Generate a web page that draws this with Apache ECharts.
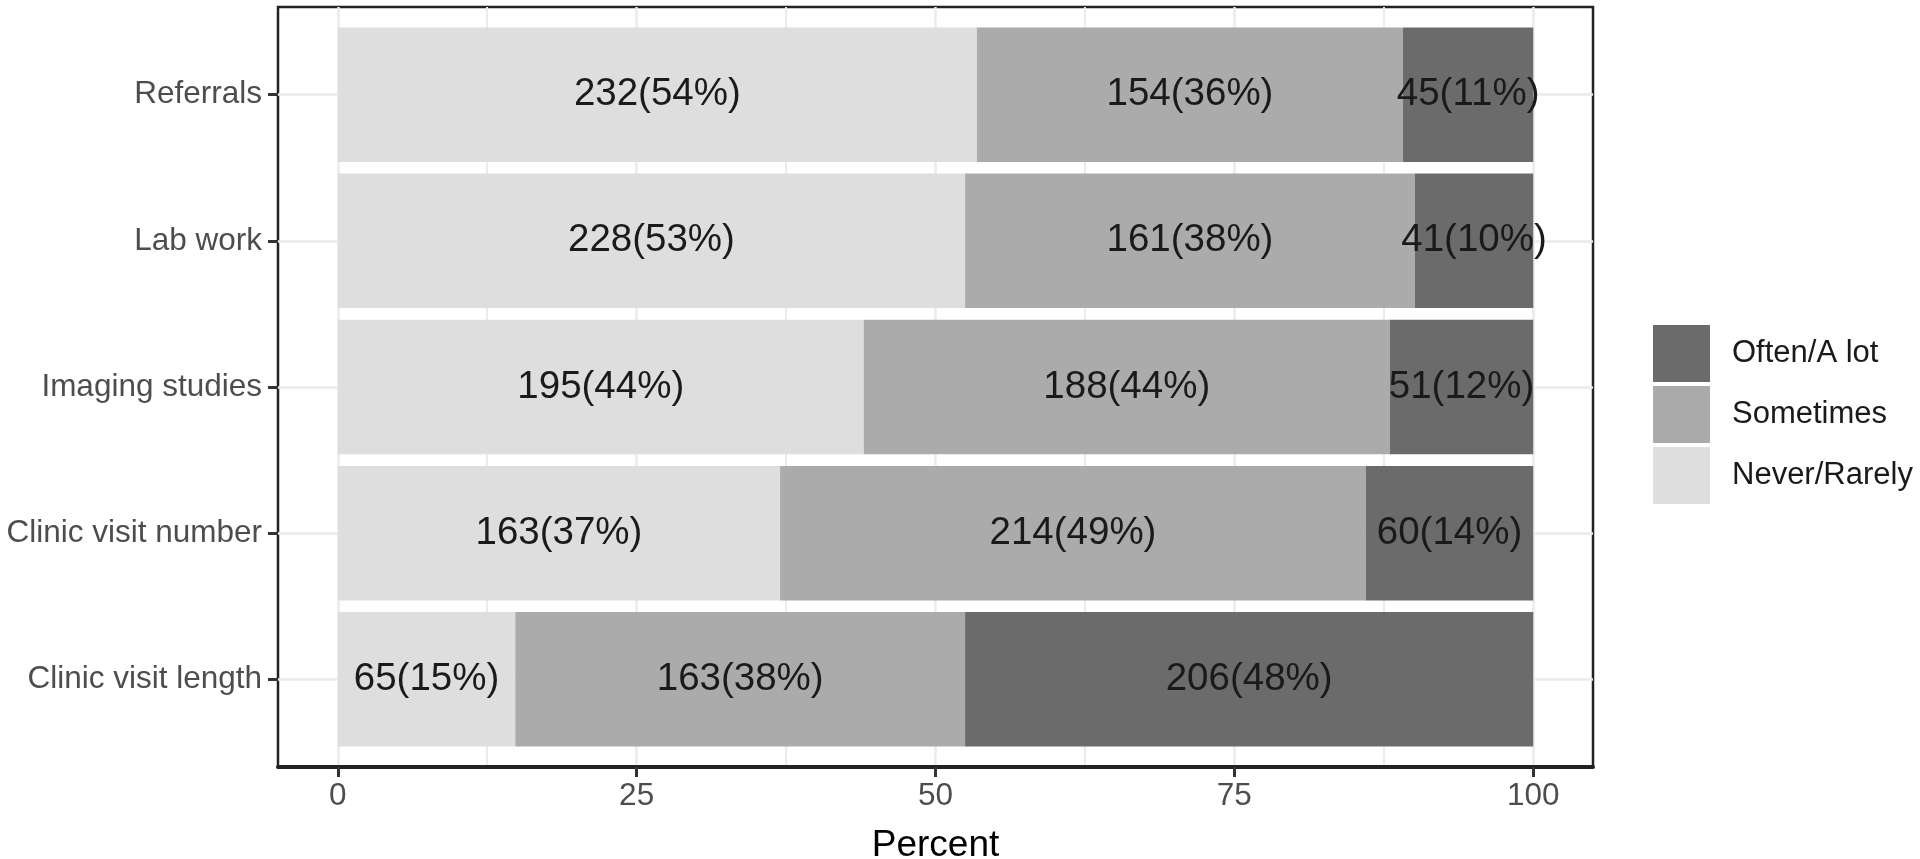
<!DOCTYPE html>
<html>
<head>
<meta charset="utf-8">
<script src="https://cdn.jsdelivr.net/npm/echarts@6/dist/echarts.min.js"></script>
<style>
html,body{margin:0;padding:0;background:#fff;}
#chart{width:1920px;height:859px;}
</style>
</head>
<body>
<div id="chart"></div>
<script>
// categories bottom-to-top
var categories = ['Clinic visit length', 'Clinic visit number', 'Imaging studies', 'Lab work', 'Referrals'];
var seriesNames = ['Never/Rarely', 'Sometimes', 'Often/A lot'];
var legendOrder = ['Often/A lot', 'Sometimes', 'Never/Rarely'];
var countsNever = [65, 163, 195, 228, 232];
var countsSometimes = [163, 214, 188, 161, 154];
var countsOften = [206, 60, 51, 41, 45];
var pctNever = [15, 37, 44, 53, 54];
var pctSometimes = [38, 49, 44, 38, 36];
var pctOften = [48, 14, 12, 10, 11];
var xTicks = [0, 25, 50, 75, 100];
var xMinor = [12.5, 37.5, 62.5, 87.5];
var colors = ['#dedede', '#ababab', '#6b6b6b'];

var FONT = 'Liberation Sans, Arial, Helvetica, sans-serif';
var counts = [countsNever, countsSometimes, countsOften];
var pcts = [pctNever, pctSometimes, pctOften];
var totals = categories.map(function (c, i) { return pctNever[i] + pctSometimes[i] + pctOften[i]; });
var catTicks = categories.map(function (c, i) { return i + 1; });

var panel = { left: 278, top: 7, width: 1315, height: 760 };
var nCat = categories.length;
var unit = panel.height / (nCat - 1 + 1.2);
var barTop = panel.top + 0.1 * unit;
var barHeight = unit * nCat;

var series = seriesNames.map(function (name, s) {
  return {
    name: name,
    type: 'bar',
    stack: 'all',
    xAxisIndex: 2,
    yAxisIndex: 1,
    barCategoryGap: '8%',
    itemStyle: { color: colors[s] },
    data: pcts[s].map(function (p, i) { return p / totals[i] * 100; }),
    label: {
      show: true,
      position: 'inside',
      fontFamily: FONT,
      fontSize: 38.5,
      color: '#1a1a1a',
      formatter: function (prm) {
        var i = prm.dataIndex;
        return counts[s][i] + '(' + pcts[s][i] + '%)';
      }
    },
    emphasis: { disabled: true },
    z: 3
  };
});

var chart = echarts.init(document.getElementById('chart'), null, { renderer: 'canvas' });
chart.setOption({
  animation: false,
  backgroundColor: '#fff',
  textStyle: { fontFamily: FONT },
  legend: {
    data: legendOrder,
    orient: 'vertical',
    left: 1653,
    top: 325,
    padding: 0,
    itemWidth: 57,
    itemHeight: 57,
    itemGap: 4,
    icon: 'rect',
    selectedMode: false,
    textStyle: { fontFamily: FONT, fontSize: 31, color: '#1a1a1a', padding: [0, 0, 0, 17] }
  },
  grid: [
    { left: panel.left, top: panel.top, width: panel.width, height: panel.height,
      outerBoundsMode: 'none', containLabel: false,
      show: true, borderColor: '#222', borderWidth: 2.5, backgroundColor: 'transparent' },
    { left: panel.left, top: barTop, width: panel.width, height: barHeight,
      outerBoundsMode: 'none', containLabel: false, show: false }
  ],
  xAxis: [
    { type: 'value', gridIndex: 0, min: -5, max: 105, position: 'bottom',
      axisLine: { show: true, onZero: false, lineStyle: { color: '#222', width: 4 } },
      axisTick: { show: true, customValues: xTicks, length: 10, lineStyle: { color: '#333', width: 3 } },
      axisLabel: { show: true, customValues: xTicks, fontFamily: FONT, fontSize: 31.5, color: '#4d4d4d', margin: 13 },
      splitLine: { show: true, lineStyle: { color: '#ebebeb', width: 2.5 } },
      name: 'Percent', nameLocation: 'middle', nameGap: 60,
      nameTextStyle: { fontFamily: FONT, fontSize: 37, color: '#000' }
    },
    { type: 'value', gridIndex: 0, min: -5, max: 105, position: 'bottom',
      axisLine: { show: false, onZero: false },
      axisTick: { show: false, customValues: xMinor },
      axisLabel: { show: false },
      splitLine: { show: true, lineStyle: { color: '#ebebeb', width: 2 } }
    },
    { type: 'value', gridIndex: 1, min: -5, max: 105, show: false,
      axisLine: { onZero: false },
      splitLine: { show: false } }
  ],
  yAxis: [
    { type: 'value', gridIndex: 0, min: 0.4, max: 5.6, position: 'left',
      axisLine: { show: false, onZero: false },
      axisTick: { show: true, customValues: catTicks, length: 10, lineStyle: { color: '#333', width: 3 } },
      axisLabel: { show: true, customValues: catTicks, fontFamily: FONT, fontSize: 31.5, color: '#4d4d4d', margin: 16,
        formatter: function (v) { return categories[Math.round(v) - 1]; } },
      splitLine: { show: true, lineStyle: { color: '#ebebeb', width: 2.5 } }
    },
    { type: 'category', gridIndex: 1, data: categories, show: false,
      axisLine: { onZero: false },
      axisTick: { show: false }, splitLine: { show: false } }
  ],
  series: series
});
</script>
</body>
</html>
